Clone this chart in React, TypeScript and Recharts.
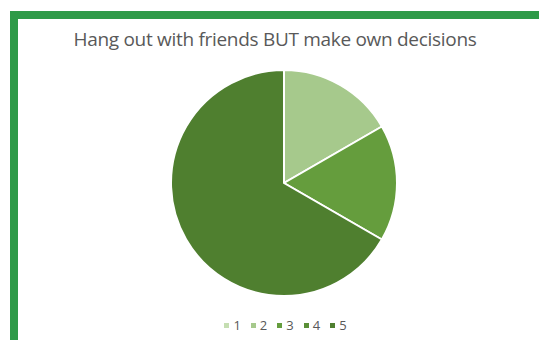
import { PieChart, Pie, Cell } from 'recharts'

const categories = ['1', '2', '3', '4', '5']
const counts = [0, 1, 1, 0, 4]
const colors = ['#c5deb2', '#a6c98c', '#659d3d', '#5a8f37', '#4f7f2f']

const title = 'Hang out with friends BUT make own decisions'

const data = categories.map((name, i) => ({ name, value: counts[i] }))

export default function App() {
  return (
    <div
      style={{
        position: 'absolute',
        left: 0,
        top: 0,
        width: 539,
        height: 340,
        background: '#fff',
        overflow: 'hidden',
        fontFamily: '"Open Sans", "Noto Sans", sans-serif',
      }}
    >
      <div
        style={{
          position: 'absolute',
          left: 10,
          top: 11,
          width: 529,
          height: 329,
          borderTop: '8px solid #2e9a48',
          borderLeft: '8px solid #2e9a48',
          boxSizing: 'border-box',
        }}
      />
      <div
        style={{
          position: 'absolute',
          left: 18,
          width: 514,
          top: 26,
          textAlign: 'center',
          fontSize: 19,
          color: '#595959',
          letterSpacing: -0.3,
        }}
      >
        {title}
      </div>
      <div style={{ position: 'absolute', left: 0, top: 0 }}>
        <PieChart width={539} height={340}>
          <Pie
            data={data}
            dataKey="value"
            nameKey="name"
            cx={279}
            cy={178}
            outerRadius={113}
            startAngle={90}
            endAngle={-270}
            stroke="#fff"
            strokeWidth={2}
            isAnimationActive={false}
          >
            {data.map((d, i) => (
              <Cell key={d.name} fill={colors[i]} />
            ))}
          </Pie>
        </PieChart>
      </div>
      <div
        style={{
          position: 'absolute',
          left: 18,
          width: 535,
          top: 316,
          display: 'flex',
          justifyContent: 'center',
          gap: 10,
          fontSize: 13,
          color: '#595959',
        }}
      >
        {categories.map((c, i) => (
          <div key={c} style={{ display: 'flex', alignItems: 'center', gap: 4 }}>
            <span style={{ width: 5, height: 5, background: colors[i], display: 'inline-block' }} />
            <span>{c}</span>
          </div>
        ))}
      </div>
    </div>
  )
}
